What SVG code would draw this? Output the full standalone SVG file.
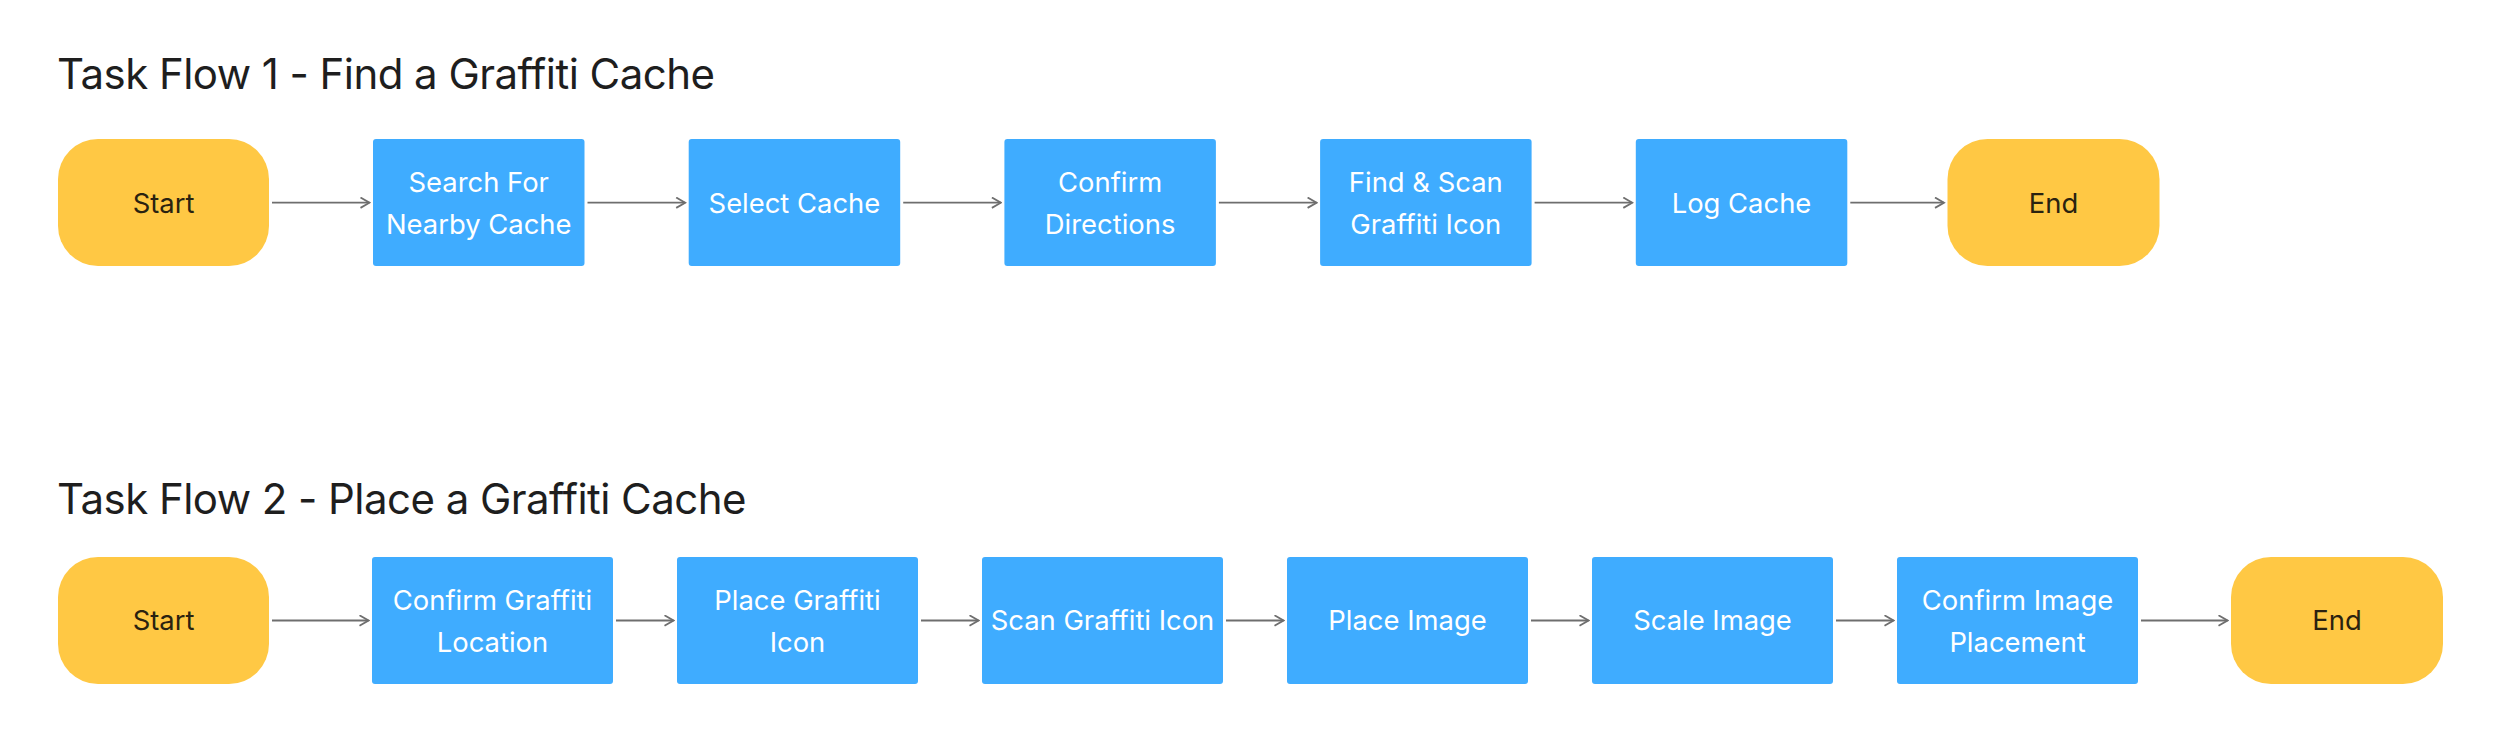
<svg xmlns="http://www.w3.org/2000/svg" width="2500" height="742" viewBox="0 0 2500 742">
<defs>
<style>
.title{font-family:Inter,"Liberation Sans",sans-serif;font-size:42px;fill:#1e1e1e;letter-spacing:-0.55px;}
.term{fill:#FFC844;}
.step{fill:#3FACFF;}
.tt{font-family:Inter,"Liberation Sans",sans-serif;font-size:27.4px;fill:#2a2210;text-anchor:middle;}
.st{font-family:Inter,"Liberation Sans",sans-serif;font-size:27.4px;fill:#ffffff;text-anchor:middle;}
.conn{stroke:#6e6e6e;stroke-width:1.8;fill:none;marker-end:url(#arr);}
</style>
<marker id="arr" viewBox="0 0 12 12" refX="10.5" refY="6" markerWidth="12" markerHeight="12" markerUnits="userSpaceOnUse" orient="auto">
<path d="M1.5,0.8 L10.5,6 L1.5,11.2" fill="none" stroke="#6e6e6e" stroke-width="1.8"/>
</marker>
</defs>
<rect width="2500" height="742" fill="#ffffff"/>
<text class="title" x="57" y="89">Task Flow 1 - Find a Graffiti Cache</text>
<text class="title" x="57" y="514">Task Flow 2 - Place a Graffiti Cache</text>

<g id="f1-start"><rect class="term" x="58" y="139" width="211" height="127" rx="40"/><text class="tt" x="163.5" y="212.5">Start</text></g>
<g id="f1-search"><rect class="step" x="373" y="139" width="211.5" height="127" rx="3"/><text class="st" x="478.7" y="191.7">Search For</text><text class="st" x="478.7" y="234">Nearby Cache</text></g>
<g id="f1-select"><rect class="step" x="688.7" y="139" width="211.5" height="127" rx="3"/><text class="st" x="794.4" y="212.5">Select Cache</text></g>
<g id="f1-confirm"><rect class="step" x="1004.4" y="139" width="211.5" height="127" rx="3"/><text class="st" x="1110.1" y="191.7">Confirm</text><text class="st" x="1110.1" y="234">Directions</text></g>
<g id="f1-find"><rect class="step" x="1320.1" y="139" width="211.5" height="127" rx="3"/><text class="st" x="1425.8" y="191.7">Find &amp; Scan</text><text class="st" x="1425.8" y="234">Graffiti Icon</text></g>
<g id="f1-log"><rect class="step" x="1635.8" y="139" width="211.5" height="127" rx="3"/><text class="st" x="1741.5" y="212.5">Log Cache</text></g>
<g id="f1-end"><rect class="term" x="1947.5" y="139" width="212" height="127" rx="40"/><text class="tt" x="2053.5" y="212.5">End</text></g>

<g id="f2-start"><rect class="term" x="58" y="557" width="211" height="127" rx="40"/><text class="tt" x="163.5" y="630.3">Start</text></g>
<g id="f2-confirm-loc"><rect class="step" x="372" y="557" width="241" height="127" rx="3"/><text class="st" x="492.5" y="609.5">Confirm Graffiti</text><text class="st" x="492.5" y="651.8">Location</text></g>
<g id="f2-place-icon"><rect class="step" x="677" y="557" width="241" height="127" rx="3"/><text class="st" x="797.5" y="609.5">Place Graffiti</text><text class="st" x="797.5" y="651.8">Icon</text></g>
<g id="f2-scan"><rect class="step" x="982" y="557" width="241" height="127" rx="3"/><text class="st" x="1102.5" y="630.3">Scan Graffiti Icon</text></g>
<g id="f2-place-image"><rect class="step" x="1287" y="557" width="241" height="127" rx="3"/><text class="st" x="1407.5" y="630.3">Place Image</text></g>
<g id="f2-scale"><rect class="step" x="1592" y="557" width="241" height="127" rx="3"/><text class="st" x="1712.5" y="630.3">Scale Image</text></g>
<g id="f2-confirm-place"><rect class="step" x="1897" y="557" width="241" height="127" rx="3"/><text class="st" x="2017.5" y="609.5">Confirm Image</text><text class="st" x="2017.5" y="651.8">Placement</text></g>
<g id="f2-end"><rect class="term" x="2231" y="557" width="212" height="127" rx="40"/><text class="tt" x="2337" y="630.3">End</text></g>

<g id="connectors">
<line class="conn" x1="272" y1="202.7" x2="369.5" y2="202.7"/>
<line class="conn" x1="587.5" y1="202.7" x2="685.2" y2="202.7"/>
<line class="conn" x1="903.2" y1="202.7" x2="1000.9" y2="202.7"/>
<line class="conn" x1="1218.9" y1="202.7" x2="1316.6" y2="202.7"/>
<line class="conn" x1="1534.6" y1="202.7" x2="1632.3" y2="202.7"/>
<line class="conn" x1="1850.3" y1="202.7" x2="1944" y2="202.7"/>
<line class="conn" x1="272" y1="620.5" x2="368.5" y2="620.5"/>
<line class="conn" x1="616" y1="620.5" x2="673.5" y2="620.5"/>
<line class="conn" x1="921" y1="620.5" x2="978.5" y2="620.5"/>
<line class="conn" x1="1226" y1="620.5" x2="1283.5" y2="620.5"/>
<line class="conn" x1="1531" y1="620.5" x2="1588.5" y2="620.5"/>
<line class="conn" x1="1836" y1="620.5" x2="1893.5" y2="620.5"/>
<line class="conn" x1="2141" y1="620.5" x2="2227.5" y2="620.5"/>
</g>
</svg>
